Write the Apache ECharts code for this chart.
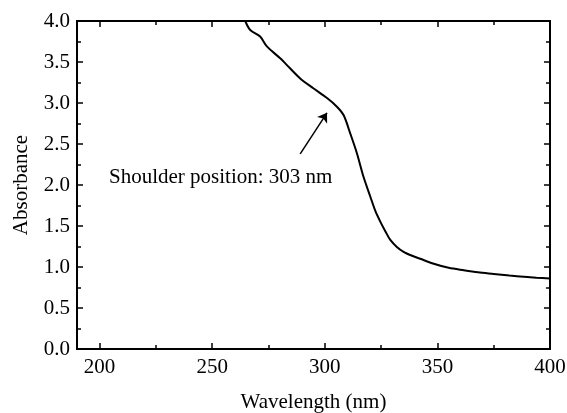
<!DOCTYPE html>
<html>
<head>
<meta charset="utf-8">
<script src="https://cdn.jsdelivr.net/npm/echarts@6/dist/echarts.min.js"></script>
<style>
  html, body { margin: 0; padding: 0; background: #fff; }
  #main { width: 567px; height: 413px; }
</style>
</head>
<body>
<div id="main"></div>
<script>
// wavelength (nm) and absorbance
const wavelength = [264.7, 266.9, 271.3, 274.3, 280.2, 284.7, 289.1, 294.9, 301, 305.4, 308.4, 311.3, 314.3, 317.2, 320.2, 322.5, 324.7, 327, 329.1, 332, 335, 338.5, 342.4, 348.4, 355, 361.7, 368, 375, 382, 388.3, 394, 400];
const absorbance = [4.0, 3.89, 3.81, 3.69, 3.545, 3.42, 3.30, 3.18, 3.06, 2.955, 2.85, 2.63, 2.385, 2.10, 1.86, 1.68, 1.55, 1.43, 1.33, 1.245, 1.185, 1.14, 1.10, 1.04, 0.99, 0.96, 0.935, 0.915, 0.895, 0.88, 0.87, 0.86];
// x tick positions
const xMajor = [200, 250, 300, 350, 400];
const xMinor = [225, 275, 325, 375];
// arrow pointing at the shoulder: [wavelength, absorbance]
const arrowFrom = [289.1, 2.38];
const arrowTo = [301, 2.88];
const noteText = 'Shoulder position: 303 nm';

const font = 'Liberation Serif';
const chart = echarts.init(document.getElementById('main'));

const points = wavelength.map((w, i) => [w, absorbance[i]]);

const tickStyle = { color: '#000', width: 1.5 };

// x axes: one carries the major ticks, an overlay carries the short minor ones
function xFrame(position, ticks, len, extra) {
  return Object.assign({
    type: 'value', position: position, min: 190, max: 400,
    axisLine: { show: true, onZero: false, lineStyle: { color: '#000', width: 2 } },
    axisTick: { show: true, inside: true, length: len, customValues: ticks, lineStyle: tickStyle },
    splitLine: { show: false },
    axisLabel: { show: false }
  }, extra || {});
}

function yFrame(position, extra) {
  return Object.assign({
    type: 'value', position: position, min: 0, max: 4, interval: 0.5,
    axisLine: { show: true, onZero: false, lineStyle: { color: '#000', width: 2 } },
    axisTick: { show: true, inside: true, length: 6, lineStyle: tickStyle },
    minorTick: { show: true, splitNumber: 2, length: 4, lineStyle: tickStyle },
    splitLine: { show: false },
    axisLabel: { show: false }
  }, extra || {});
}

const option = {
  animation: false,
  grid: { left: 77, right: 17, top: 21, bottom: 64, containLabel: false, outerBoundsMode: 'none' },
  xAxis: [
    xFrame('bottom', xMajor, 6, {
      axisLabel: {
        show: true, customValues: xMajor, color: '#000', fontFamily: font, fontSize: 21, margin: 8
      },
      name: 'Wavelength (nm)', nameLocation: 'middle', nameGap: 43,
      nameTextStyle: { color: '#000', fontFamily: font, fontSize: 21 }
    }),
    xFrame('bottom', xMinor, 4),
    xFrame('top', xMajor, 6),
    xFrame('top', xMinor, 4)
  ],
  yAxis: [
    yFrame('left', {
      axisLabel: {
        show: true, color: '#000', fontFamily: font, fontSize: 21, margin: 7,
        formatter: v => v.toFixed(1)
      },
      name: 'Absorbance', nameLocation: 'middle', nameGap: 45,
      nameTextStyle: { color: '#000', fontFamily: font, fontSize: 21 }
    }),
    yFrame('right')
  ],
  series: [
    {
      type: 'line',
      data: points,
      smooth: 0.3,
      showSymbol: false,
      lineStyle: { color: '#000', width: 2 },
      markLine: {
        silent: true,
        symbol: ['none', 'arrow'],
        symbolSize: 9,
        label: { show: false },
        lineStyle: { color: '#000', width: 1.5, type: 'solid' },
        data: [[{ coord: arrowFrom }, { coord: arrowTo }]]
      }
    }
  ],
  graphic: [
    {
      type: 'text',
      left: 109,
      top: 167,
      style: { text: noteText, fill: '#000', font: '21px "Liberation Serif"' }
    }
  ]
};

chart.setOption(option);
</script>
</body>
</html>
